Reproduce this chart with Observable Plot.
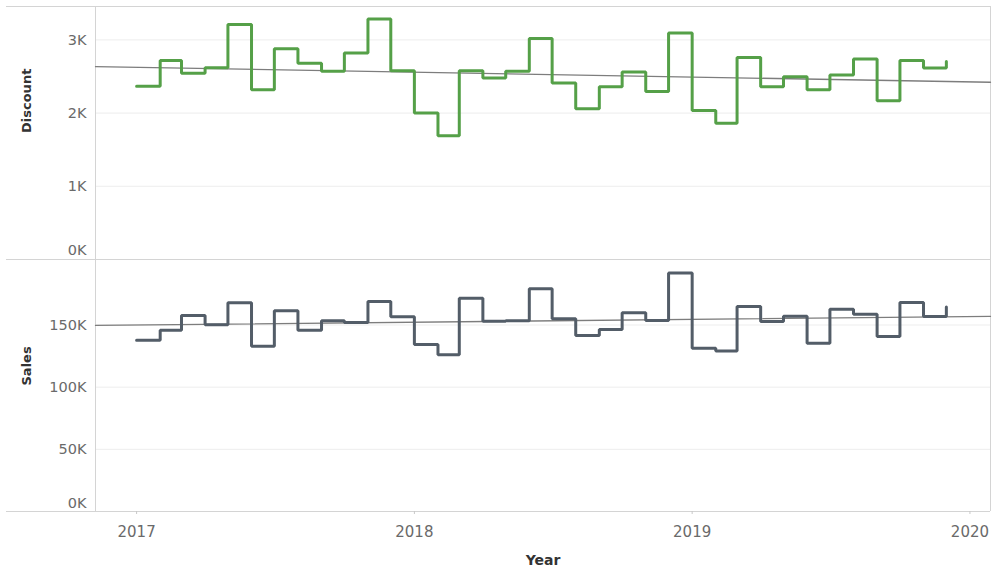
<!DOCTYPE html>
<html><head><meta charset="utf-8">
<script src="https://cdn.jsdelivr.net/npm/d3@7"></script>
<script src="https://cdn.jsdelivr.net/npm/@observablehq/plot@0.6"></script>
<style>
body{margin:0;background:#fff;font-family:"DejaVu Sans",sans-serif;}
#chart{position:relative;width:995px;height:571px;overflow:hidden;}
#chart svg{position:absolute;left:0;}
</style></head><body><div id="chart"></div>
<script>
const monthStarts = d3.utcMonths(new Date("2017-01-01"), new Date("2020-01-01"));
const discount = [2367,2720,2545,2620,3210,2320,2880,2680,2570,2820,3285,2580,
  2000,1690,2580,2480,2570,3020,2410,2060,2360,2560,2295,3095,
  2035,1860,2760,2360,2495,2320,2520,2740,2170,2720,2615,2705];
const sales = [137700,145800,157700,150200,167900,132900,161400,145800,153400,152000,169000,156600,
  134300,126000,171600,153000,153400,179200,155000,141500,146400,159800,153600,191800,
  131300,129200,164900,152800,157100,135300,162700,158700,140700,168100,156900,164400];
const yearTicks = [2017, 2018, 2019, 2020];
const discountTicks = [0, 1000, 2000, 3000];
const salesTicks = [0, 50000, 100000, 150000];

const xDomain = [new Date("2016-11-08"), new Date("2020-01-28")];
const fmtK = d => (d / 1000) + "K";
const gridC = "#ededed", frameC = "#d4d4d4", labelC = "#6a6a6a";

function trend(xs, ys, dom) {
  const xm = d3.mean(xs, d => +d), ym = d3.mean(ys);
  let num = 0, den = 0;
  xs.forEach((x, i) => { num += (+x - xm) * (ys[i] - ym); den += (+x - xm) ** 2; });
  const b = num / den, a = ym - b * xm;
  return dom.map(x => ({x, y: a + b * (+x)}));
}

const dData = monthStarts.map((m, i) => ({m, v: discount[i]}));
const sData = monthStarts.map((m, i) => ({m, v: sales[i]}));
const yearDates = yearTicks.map(y => new Date(Date.UTC(y, 0, 1)));

function panel({data, values, ticks, ymax, color, title, height, marginTop, marginBottom, zeroDy, bottom}) {
  const marks = [
    Plot.gridY(ticks.filter(d => d > 0), {stroke: gridC, strokeOpacity: 1}),
    Plot.ruleY([0], {stroke: frameC, insetLeft: -89}),
    Plot.ruleX([xDomain[0]], {stroke: frameC}),
    Plot.ruleX([xDomain[1]], {stroke: frameC}),
    Plot.line(trend(monthStarts, values, xDomain), {x: "x", y: "y", stroke: "#7d7d7d", strokeWidth: 1.3}),
    Plot.line(data, {x: "m", y: "v", curve: "step-after", stroke: color, strokeWidth: 3, strokeLinejoin: "miter"}),
    Plot.axisY(ticks.filter(d => d > 0), {tickSize: 0, tickPadding: 9, tickFormat: fmtK, fill: labelC, fontSize: 14.5}),
    Plot.axisY([0], {tickSize: 0, tickPadding: 9, tickFormat: fmtK, fill: labelC, fontSize: 14.5, dy: zeroDy}),
    Plot.text([title], {frameAnchor: "left", rotate: -90, dx: -69, fontWeight: "bold", fill: "#333", fontSize: 13})
  ];
  if (!bottom) marks.push(Plot.ruleY([ymax], {stroke: frameC, insetLeft: -89}));
  if (bottom) {
    marks.push(Plot.axisX(yearDates, {tickSize: 3, tickPadding: 12, tickFormat: d3.utcFormat("%Y"), stroke: "#c8c8c8", fill: labelC, fontSize: 15}));
    marks.push(Plot.text(["Year"], {frameAnchor: "bottom", dy: 53, fontWeight: "bold", fill: "#333", fontSize: 14}));
  }
  return Plot.plot({
    width: 995, height, marginLeft: 95, marginRight: 5, marginTop, marginBottom,
    style: {background: "transparent", overflow: "visible", fontFamily: "'DejaVu Sans', sans-serif"},
    x: {type: "utc", domain: xDomain, axis: null},
    y: {domain: [0, ymax], axis: null},
    marks
  });
}

const topPanel = panel({data: dData, values: discount, ticks: discountTicks, ymax: 3456, color: "#55a048",
  title: "Discount", height: 260, marginTop: 6, marginBottom: 1, zeroDy: -9, bottom: false});
const botPanel = panel({data: sData, values: sales, ticks: salesTicks, ymax: 202700, color: "#535d68",
  title: "Sales", height: 312, marginTop: 0, marginBottom: 60, zeroDy: -8, bottom: true});
topPanel.style.top = "0px";
botPanel.style.top = "259px";
const chart = document.getElementById("chart");
chart.appendChild(topPanel);
chart.appendChild(botPanel);
</script>
</body></html>
